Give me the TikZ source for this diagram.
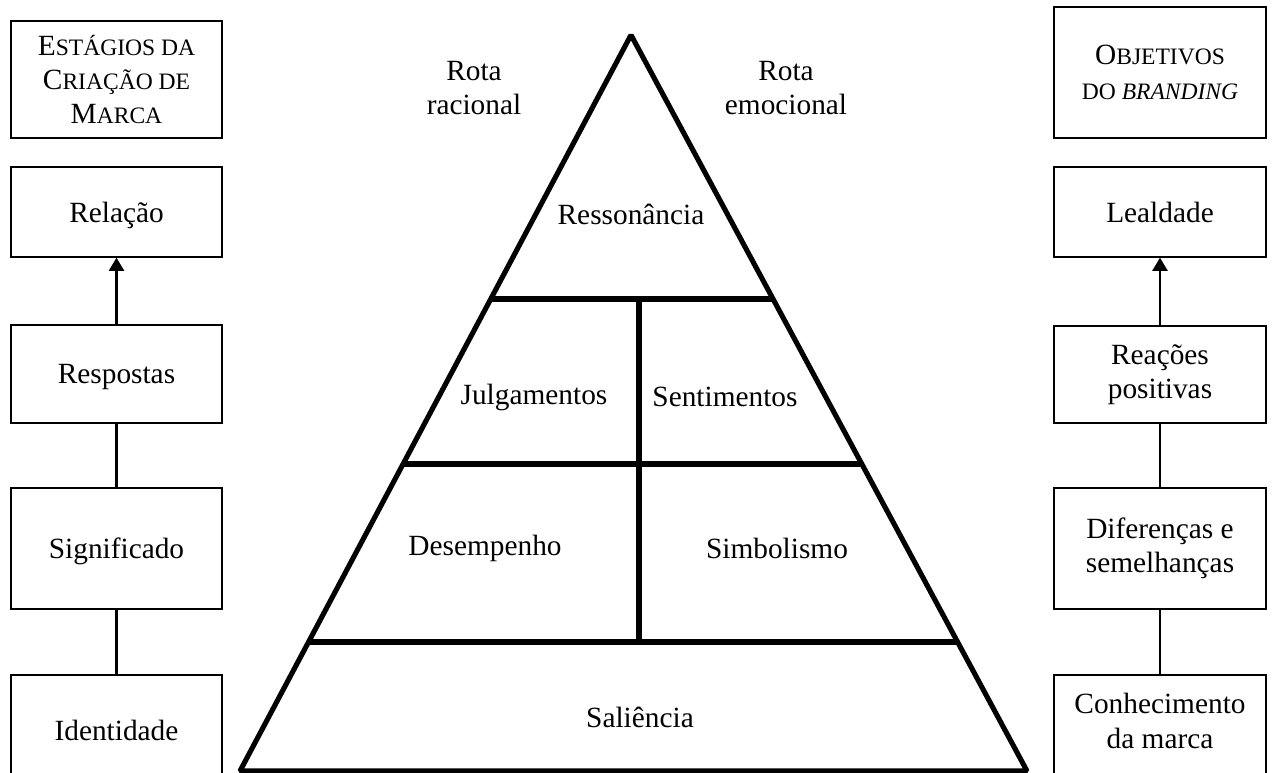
\documentclass[tikz,border=0pt]{standalone}
\usepackage{fontspec}
\setmainfont{Liberation Serif}
\usetikzlibrary{arrows.meta,calc}
\newcommand{\smallcp}[1]{{\fontsize{13.4}{19.5}\selectfont #1}}
\begin{document}
\begin{tikzpicture}[x=0.02cm,y=-0.02cm,
  font=\fontsize{16.7}{19.5}\selectfont,
  box/.style={draw, line width=0.75pt, inner sep=0pt, align=center},
  lbox/.style={box, minimum width=4.22cm},
  rbox/.style={box, minimum width=4.24cm},
  oneline/.style={text depth=0pt},
  link/.style={line width=1.4pt},
  uparrow/.style={link, -{Triangle[length=7.5pt,width=8.5pt]}},
  pyr/.style={line width=2.9pt, line join=bevel},
  lbl/.style={align=center, inner sep=0pt}]
\useasboundingbox (0,0) rectangle (1272,773);
\clip (0,0) rectangle (1272,773);
% left column
\node[lbox, minimum height=2.34cm] (L0) at (116.5,79.5)
  {E\smallcp{STÁGIOS DA}\\C\smallcp{RIAÇÃO DE}\\M\smallcp{ARCA}};
\node[lbox, oneline, minimum height=1.8cm] (L1) at (116.5,212) {Relação};
\node[lbox, oneline, minimum height=1.96cm] (L2) at (116.5,374) {Respostas};
\node[lbox, oneline, minimum height=2.42cm] (L3) at (116.5,548.5) {Significado};
\node[lbox, oneline, minimum height=2.2cm] (L4) at (116.5,730) {Identidade};
% right column
\node[rbox, minimum height=2.62cm] (R0) at (1160,72.5)
  {O\smallcp{BJETIVOS}\\\smallcp{DO \textit{BRANDING}}};
\node[rbox, oneline, minimum height=1.8cm] (R1) at (1160,212) {Lealdade};
\node[rbox, minimum height=1.94cm] (R2) at (1160,374.5) {Reações\\positivas};
\node[rbox, minimum height=2.42cm] (R3) at (1160,548.5) {Diferenças e\\semelhanças};
\node[rbox, minimum height=2.2cm] (R4) at (1160,730) {};
\node[lbl] (R4t) at (1160,721) {Conhecimento\\da marca};
% connectors
\draw[uparrow] (L2.north) -- (L1.south);
\draw[link] (L3.north) -- (L2.south);
\draw[link] (L4.north) -- (L3.south);
\draw[uparrow] (R2.north) -- (R1.south);
\draw[link] (R3.north) -- (R2.south);
\draw[link] (R4.north) -- (R3.south);
% pyramid
\coordinate (apex) at (631,35);
\coordinate (bl) at (240,771);
\coordinate (br) at (1027,771);
\coordinate (a1) at ($(apex)!0.3587!(bl)$);
\coordinate (b1) at ($(apex)!0.3587!(br)$);
\coordinate (a2) at ($(apex)!0.5829!(bl)$);
\coordinate (b2) at ($(apex)!0.5829!(br)$);
\coordinate (a3) at ($(apex)!0.8247!(bl)$);
\coordinate (b3) at ($(apex)!0.8247!(br)$);
\coordinate (vt) at (639,299);
\coordinate (vb) at (639,642);
\draw[pyr] (apex) -- (bl) -- (br) -- cycle;
\draw[pyr] (a1) -- (b1);
\draw[pyr] (a2) -- (b2);
\draw[pyr] (a3) -- (b3);
\draw[pyr] (vt) -- (vb);
% labels
\node[lbl] (rr) at (474,88) {Rota\\racional};
\node[lbl] (re) at (786,88) {Rota\\emocional};
\node[lbl] (res) at (631,214) {Ressonância};
\node[lbl] (jul) at (534,397) {Julgamentos};
\node[lbl] (sen) at (725,397) {Sentimentos};
\node[lbl] (des) at (485,548) {Desempenho};
\node[lbl] (sim) at (777,548) {Simbolismo};
\node[lbl] (sal) at (640,717) {Saliência};
\end{tikzpicture}
\end{document}
